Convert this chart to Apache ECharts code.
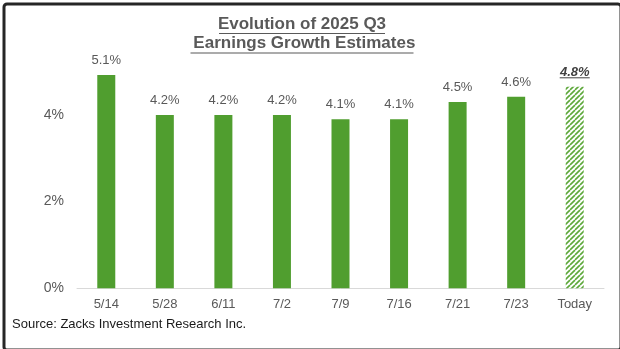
<!DOCTYPE html>
<html>
<head>
<meta charset="utf-8">
<script src="https://cdn.jsdelivr.net/npm/echarts@6/dist/echarts.min.js"></script>
<style>
html,body{margin:0;padding:0;background:#fff;}
#chart{width:620px;height:349px;}
</style>
</head>
<body>
<div id="chart"></div>
<script>
// Data
var categories = ['5/14', '5/28', '6/11', '7/2', '7/9', '7/16', '7/21', '7/23', 'Today'];
var barHeights = [4.92, 4.0, 4.0, 4.0, 3.9, 3.9, 4.3, 4.42, 4.65];
var barLabels = ['5.1%', '4.2%', '4.2%', '4.2%', '4.1%', '4.1%', '4.5%', '4.6%', '4.8%'];
var yTicks = [0, 2, 4];
var titleLines = ['Evolution of 2025 Q3', ' Earnings Growth Estimates'];
var sourceText = 'Source: Zacks Investment Research Inc.';

var GREEN = '#509E2F';

// hatch pattern for the last bar
var pc = document.createElement('canvas');
pc.width = 5; pc.height = 5;
var ctx = pc.getContext('2d');
ctx.fillStyle = '#fff';
ctx.fillRect(0, 0, 5, 5);
ctx.strokeStyle = '#5DA83A';
ctx.lineWidth = 1.6;
for (var k = -5; k <= 10; k += 5) {
  ctx.beginPath();
  ctx.moveTo(k, 5);
  ctx.lineTo(k + 5, 0);
  ctx.stroke();
}

var lastIdx = categories.length - 1;
var seriesData = barHeights.map(function (v, i) {
  if (i === lastIdx) {
    return {
      value: v,
      itemStyle: { color: { image: pc, repeat: 'repeat' } },
      label: {
        fontWeight: 'bold', fontStyle: 'italic', color: '#404040',
        formatter: '{u|' + barLabels[i] + '}',
        rich: { u: { fontWeight: 'bold', fontStyle: 'italic', color: '#404040', fontSize: 13, fontFamily: 'Liberation Sans, Arial, sans-serif' } }
      }
    };
  }
  return v;
});

var chart = echarts.init(document.getElementById('chart'), null, { renderer: 'canvas' });

var FONT = 'Liberation Sans, Arial, sans-serif';
var option = {
  animation: false,
  backgroundColor: '#fff',
  grid: { left: 77, right: 16, top: 28.3, bottom: 60.7 },
  xAxis: {
    type: 'category',
    data: categories,
    axisLine: { show: true, lineStyle: { color: '#D9D9D9', width: 1 } },
    axisTick: { show: false },
    axisLabel: { color: '#595959', fontSize: 13, fontFamily: FONT, margin: 10 }
  },
  yAxis: {
    type: 'value',
    min: 0, max: 6, interval: 2,
    splitLine: { show: false },
    axisLine: { show: false },
    axisTick: { show: false },
    axisLabel: {
      color: '#595959', fontSize: 14, fontFamily: FONT, margin: 13,
      formatter: function (v) { return yTicks.indexOf(v) >= 0 ? v + '%' : ''; }
    }
  },
  series: [{
    type: 'bar',
    data: seriesData,
    barWidth: 18,
    itemStyle: { color: GREEN },
    label: {
      show: true, position: 'top', distance: 8,
      color: '#595959', fontSize: 13, fontFamily: FONT,
      formatter: function (p) { return barLabels[p.dataIndex]; }
    }
  }],
  graphic: [
    { type: 'rect', left: 1.5, top: 1.5, shape: { width: 617, height: 346, r: 3 }, style: { fill: 'none', stroke: '#262626', lineWidth: 3 }, silent: true },
    { type: 'text', x: 302, y: 24, style: { text: titleLines[0], fill: '#595959', font: 'bold 17px ' + FONT, textAlign: 'center', textVerticalAlign: 'middle' } },
    { type: 'text', x: 302, y: 43.5, style: { text: titleLines[1], fill: '#595959', font: 'bold 17px ' + FONT, textAlign: 'center', textVerticalAlign: 'middle' } },
    { type: 'line', shape: { x1: 219, y1: 33.5, x2: 385, y2: 33.5 }, style: { stroke: '#595959', lineWidth: 1.2 } },
    { type: 'line', shape: { x1: 190.5, y1: 53, x2: 413.5, y2: 53 }, style: { stroke: '#595959', lineWidth: 1.2 } },
    { type: 'text', x: 12, y: 324, style: { text: sourceText, fill: '#1A1A1A', font: '13px ' + FONT, textAlign: 'left', textVerticalAlign: 'middle' } }
  ]
};
chart.setOption(option);

// underline under the "Today" label, placed from the computed bar position
var pt = chart.convertToPixel({ seriesIndex: 0 }, [lastIdx, barHeights[lastIdx]]);
chart.setOption({
  graphic: option.graphic.concat([
    { type: 'line', shape: { x1: pt[0] - 15, y1: pt[1] - 9, x2: pt[0] + 15, y2: pt[1] - 9 }, style: { stroke: '#404040', lineWidth: 1 } }
  ])
});
</script>
</body>
</html>
